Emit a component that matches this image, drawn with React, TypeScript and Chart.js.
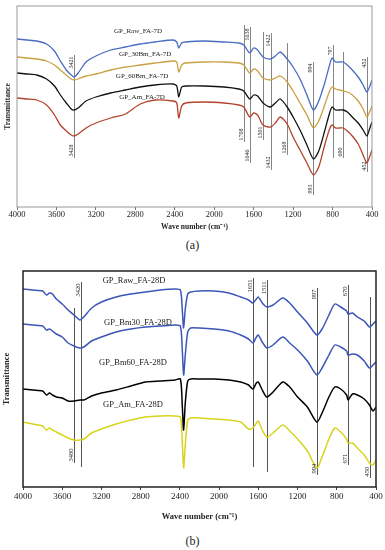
import React, { useEffect, useRef } from 'react';
import { Chart, registerables } from 'chart.js';
Chart.register(...registerables);

const SERIF = "'Liberation Serif', 'Times New Roman', Times, serif";

const X_TICKS = [4000, 3600, 3200, 2800, 2400, 2000, 1600, 1200, 800, 400];

// ---------- Panel (a): 7D ----------
const WN_A = [4000, 3900, 3800, 3700, 3620, 3560, 3500, 3450, 3421, 3380, 3300, 3200, 3050, 2900, 2750, 2600, 2420, 2380, 2360, 2330, 2290, 2100, 1900, 1750, 1700, 1640, 1600, 1560, 1505, 1430, 1380, 1330, 1260, 1200, 1130, 1060, 994, 940, 880, 830, 805, 770, 730, 694, 650, 600, 540, 490, 452, 425, 400];
const RAW_7D = [84, 83.5, 83, 81.5, 78, 73, 68.5, 66, 65, 67, 72.5, 75.5, 78.5, 80, 81.5, 82.5, 83.5, 82.5, 79.5, 82, 82.5, 83, 82.5, 82, 81, 77, 79.5, 78.5, 75, 74, 75.5, 77.5, 74, 70, 64, 56, 48.5, 53, 62, 71, 74.5, 72.5, 72.5, 72.5, 71, 68.5, 65, 61, 57.5, 60, 63.5];
const BM30_7D = [75, 74.5, 74, 73, 71, 68.5, 66, 64, 63.5, 64, 65.5, 66.5, 68.5, 70, 71, 72, 73, 72.5, 67.5, 71, 72, 72.5, 72.5, 72, 71, 67, 69, 68, 64.5, 63.5, 64.5, 65.5, 62.5, 58, 52, 46, 39.5, 43, 51, 58, 60, 59, 58.5, 58, 57.5, 56, 53, 49, 45, 47.5, 50.5];
const BM60_7D = [67, 66.5, 66, 64, 60.5, 56, 52, 49, 48.5, 49.5, 53, 55, 57, 58.5, 60, 61, 61.5, 60.5, 55, 60, 60.5, 60.5, 60, 59, 58, 54, 56, 55.5, 52, 50, 52, 54, 50, 45, 38.5, 31, 24, 28, 38, 47, 50, 48.5, 48.5, 48.5, 47.5, 45, 42, 38.5, 35.5, 39, 42.5];
const AM_7D = [54.5, 54, 53.5, 51, 46, 41, 38, 36, 35.5, 36.5, 39.5, 42, 44.5, 46.5, 51.5, 53.5, 53, 52, 44.5, 50.5, 52, 52.5, 52, 51, 50, 45, 47, 46, 41, 40, 42, 45, 41.5, 35, 28.5, 22, 16, 20, 31, 39, 41, 39.5, 39.5, 39.5, 38, 35.5, 31.5, 26, 22, 25, 28.5];
const NAMES_A = ['GP_Raw_FA-7D', 'GP_30Bm_FA-7D', 'GP_60Bm_FA-7D', 'GP_Am_FA-7D'];
const NAME_WN_A = [2773, 2700, 2732, 2732];
const NAME_T_A = [88, 76.5, 65.5, 55];
const MARK_WN_A = [3421, 1698, 1637, 1505, 1424, 1262, 994, 796, 694, 451];
const MARK_TOP_A = [76, 91, 90, 87.5, 87, 82, 72.5, 81, 77.5, 75];
const MARK_BOT_A = [24.5, 32.5, 22, 33.5, 18.5, 26, 6, 24.5, 24.5, 17.5];
const MARK_TOPLBL_A = ['3421', '', '1638', '', '1422', '', '994', '797', '', '452'];
const MARK_BOTLBL_A = ['3428', '1708', '1646', '1501', '1432', '1268', '993', '', '690', '452'];

// ---------- Panel (b): 28D ----------
const WN_B = [4000, 3900, 3800, 3760, 3730, 3700, 3660, 3600, 3540, 3480, 3420, 3380, 3300, 3200, 3050, 2900, 2750, 2600, 2450, 2395, 2375, 2362, 2345, 2320, 2290, 2200, 2050, 1900, 1780, 1700, 1655, 1620, 1600, 1560, 1513, 1450, 1350, 1280, 1200, 1100, 1003, 950, 880, 820, 760, 700, 685, 640, 590, 520, 467, 430, 400];
const RAW_28D = [99, 98.5, 98, 96, 97, 96.5, 94, 91.5, 88.5, 86, 83.5, 85, 89.5, 92.5, 95, 96.5, 97.5, 98.5, 99, 98.5, 88, 79.5, 89, 96.5, 97.5, 98, 98, 97, 95, 93.5, 92, 94, 95, 92, 90, 91, 94.5, 92, 87.5, 82, 76, 79, 86, 91.5, 90, 88, 86.5, 87, 85, 83, 80, 81.5, 83];
const BM30_28D = [81.5, 81, 80.5, 78.5, 79, 78, 76.5, 75, 72, 70.5, 69.5, 70, 73, 75, 77.5, 79, 80, 80.5, 81, 80.5, 68, 56, 66, 77.5, 79.5, 79.5, 79, 78, 76, 74, 72, 75, 76, 72.5, 69.5, 71, 75, 72, 68.5, 63, 56, 59.5, 66, 71, 70, 68, 66, 66.5, 66, 63, 59.5, 61, 62.5];
const BM60_28D = [49, 48.5, 48, 46, 47, 46, 45, 44.5, 43, 43, 43.5, 43.5, 45.5, 47, 48.5, 50.5, 52.5, 53, 53.5, 54, 40, 28.5, 42, 53, 54, 54, 54, 53.5, 52.5, 51, 49, 52, 52.5, 48.5, 45, 47.5, 52.5, 50, 45, 40, 32.5, 37, 45, 50, 49, 46, 43.5, 46.5, 46, 44, 41, 38, 40];
const AM_28D = [32.5, 31.5, 30.5, 28.5, 29.5, 28.5, 27.5, 26, 24.5, 23.5, 23.5, 24, 27, 29, 31.5, 33.5, 35, 35.5, 35.5, 35, 22, 9.5, 21, 33.5, 34.5, 34.5, 34, 33.5, 32.5, 29, 29.5, 32, 33, 28.5, 25, 27, 31, 28, 24, 18, 9.5, 15, 24, 29.5, 27.5, 24, 22, 22, 19.5, 16, 12, 11, 13.5];
const NAMES_B = ['GP_Raw_FA-28D', 'GP_Bm30_FA-28D', 'GP_Bm60_FA-28D', 'GP_Am_FA-28D'];
const NAME_WN_B = [2868, 2827, 2878, 2878];
const NAME_T_B = [103, 82, 62, 41];
const MARK_WN_B = [3480, 3405, 1655, 1511, 1003, 685, 458];
const MARK_TOP_B = [89.5, 102.5, 104.5, 103.5, 99.5, 101, 95];
const MARK_BOT_B = [12, 10, 10, 7.5, 6, 11, 4.5];
const MARK_TOPLBL_B = ['', '3420', '1651', '1511', '997', '670', ''];
const MARK_BOTLBL_B = ['3480', '', '', '', '994', '671', '450'];

type Cfg = {
  wn: number[];
  values: number[][];
  colors: string[];
  lineWidth: number;
  names: string[];
  nameWn: number[];
  nameT: number[];
  nameSize: number;
  markWn: number[];
  markTop: number[];
  markBot: number[];
  markTopLbl: string[];
  markBotLbl: string[];
  markSize: number;
  markColor: string;
  markWidth: number;
  yMax: number;
  pad: { left: number; right: number; top: number; bottom: number };
  axisH: number;
  canvasH: number;
  tickSize: number;
  tickPad: number;
  titleSize: number;
  titlePadBottom: number;
  frameColor: string;
  frameWidth: number;
  tickColor: string;
  yTitleX: number;
  yTitleSize: number;
};

const makeOverlay = (cfg: Cfg) => ({
  id: 'overlay',
  beforeDatasetsDraw(chart: any) {
    const { ctx, scales } = chart;
    const x = scales.x;
    const y = scales.y;
    ctx.save();
    ctx.strokeStyle = cfg.markColor;
    ctx.lineWidth = cfg.markWidth;
    cfg.markWn.forEach((w, i) => {
      const px = Math.round(x.getPixelForValue(w)) + 0.5;
      ctx.beginPath();
      ctx.moveTo(px, y.getPixelForValue(cfg.markTop[i]));
      ctx.lineTo(px, y.getPixelForValue(cfg.markBot[i]));
      ctx.stroke();
    });
    ctx.restore();
  },
  afterDatasetsDraw(chart: any) {
    const { ctx, chartArea: a, scales } = chart;
    const x = scales.x;
    const y = scales.y;
    ctx.save();
    // peak labels
    ctx.fillStyle = '#222';
    ctx.font = `${cfg.markSize}px ${SERIF}`;
    ctx.textBaseline = 'alphabetic';
    cfg.markWn.forEach((w, i) => {
      const px = Math.round(x.getPixelForValue(w)) - 1;
      if (cfg.markTopLbl[i]) {
        ctx.save();
        ctx.translate(px, y.getPixelForValue(cfg.markTop[i]) + 1.5);
        ctx.rotate(-Math.PI / 2);
        ctx.textAlign = 'right';
        ctx.fillText(cfg.markTopLbl[i], 0, 0);
        ctx.restore();
      }
      if (cfg.markBotLbl[i]) {
        ctx.save();
        ctx.translate(px, y.getPixelForValue(cfg.markBot[i]) - 1.5);
        ctx.rotate(-Math.PI / 2);
        ctx.textAlign = 'left';
        ctx.fillText(cfg.markBotLbl[i], 0, 0);
        ctx.restore();
      }
    });
    // series names
    ctx.font = `${cfg.nameSize}px ${SERIF}`;
    ctx.textAlign = 'center';
    ctx.textBaseline = 'middle';
    cfg.names.forEach((n, i) => {
      ctx.fillText(n, x.getPixelForValue(cfg.nameWn[i]), y.getPixelForValue(cfg.nameT[i]));
    });
    // y title
    ctx.save();
    ctx.font = `bold ${cfg.yTitleSize}px ${SERIF}`;
    ctx.translate(cfg.yTitleX, (a.top + a.bottom) / 2);
    ctx.rotate(-Math.PI / 2);
    ctx.textAlign = 'center';
    ctx.textBaseline = 'middle';
    ctx.fillText('Transmittance', 0, 0);
    ctx.restore();
    // frame
    ctx.strokeStyle = cfg.frameColor;
    ctx.lineWidth = cfg.frameWidth;
    ctx.strokeRect(a.left, a.top, a.right - a.left, a.bottom - a.top);
    ctx.restore();
  },
});

function Panel({ cfg, top }: { cfg: Cfg; top: number }) {
  const ref = useRef<HTMLCanvasElement | null>(null);
  useEffect(() => {
    if (!ref.current) return;
    const chart = new Chart(ref.current, {
      type: 'line',
      data: {
        datasets: cfg.values.map((vals, s) => ({
          label: cfg.names[s],
          data: cfg.wn.map((w, i) => ({ x: w, y: vals[i] })),
          borderColor: cfg.colors[s],
          borderWidth: cfg.lineWidth,
          pointRadius: 0,
          tension: 0.25,
          fill: false,
        })),
      },
      options: {
        animation: false,
        responsive: false,
        events: [],
        layout: { padding: cfg.pad },
        plugins: { legend: { display: false }, tooltip: { enabled: false } },
        scales: {
          x: {
            type: 'linear',
            min: 400,
            max: 4000,
            reverse: true,
            afterBuildTicks: (axis: any) => {
              axis.ticks = X_TICKS.map((v) => ({ value: v }));
            },
            afterFit: (axis: any) => {
              axis.height = cfg.axisH;
            },
            ticks: {
              font: { family: SERIF, size: cfg.tickSize },
              color: '#222',
              padding: cfg.tickPad,
              maxRotation: 0,
              autoSkip: false,
              callback: (v: any) => String(v),
            },
            grid: { drawOnChartArea: false, drawTicks: true, tickLength: 3, color: cfg.tickColor },
            border: { display: false },
            title: {
              display: true,
              text: 'Wave number (cm⁻¹)',
              font: { family: SERIF, size: cfg.titleSize, weight: 'bold' },
              color: '#222',
              padding: { top: 0, bottom: cfg.titlePadBottom },
            },
          },
          y: { display: false, min: 0, max: cfg.yMax },
        },
      } as any,
      plugins: [makeOverlay(cfg)],
    });
    return () => chart.destroy();
  }, [cfg]);
  return (
    <canvas
      ref={ref}
      width={385}
      height={cfg.canvasH}
      style={{ position: 'absolute', left: 0, top, width: 385, height: cfg.canvasH, display: 'block' }}
    />
  );
}

const CFG_A: Cfg = {
  wn: WN_A,
  values: [RAW_7D, BM30_7D, BM60_7D, AM_7D],
  colors: ['#4a6cc2', '#c9a142', '#111111', '#b3432b'],
  lineWidth: 1.3,
  names: NAMES_A,
  nameWn: NAME_WN_A,
  nameT: NAME_T_A,
  nameSize: 7,
  markWn: MARK_WN_A,
  markTop: MARK_TOP_A,
  markBot: MARK_BOT_A,
  markTopLbl: MARK_TOPLBL_A,
  markBotLbl: MARK_BOTLBL_A,
  markSize: 6,
  markColor: '#666666',
  markWidth: 0.8,
  yMax: 100.5,
  pad: { left: 17, right: 13, top: 6, bottom: 0 },
  axisH: 28,
  canvasH: 235,
  tickSize: 8.5,
  tickPad: 0,
  titleSize: 7.5,
  titlePadBottom: 3.5,
  frameColor: '#999999',
  frameWidth: 1,
  tickColor: '#777777',
  yTitleX: 8,
  yTitleSize: 7.5,
};

const CFG_B: Cfg = {
  wn: WN_B,
  values: [RAW_28D, BM30_28D, BM60_28D, AM_28D],
  colors: ['#3b56b6', '#3b56b6', '#000000', '#d8d41e'],
  lineWidth: 1.5,
  names: NAMES_B,
  nameWn: NAME_WN_B,
  nameT: NAME_T_B,
  nameSize: 8.5,
  markWn: MARK_WN_B,
  markTop: MARK_TOP_B,
  markBot: MARK_BOT_B,
  markTopLbl: MARK_TOPLBL_B,
  markBotLbl: MARK_BOTLBL_B,
  markSize: 6.5,
  markColor: '#555555',
  markWidth: 1,
  yMax: 108,
  pad: { left: 23, right: 9, top: 9, bottom: 0 },
  axisH: 40,
  canvasH: 265,
  tickSize: 9,
  tickPad: 1.5,
  titleSize: 8.5,
  titlePadBottom: 5.6,
  frameColor: '#222222',
  frameWidth: 1.5,
  tickColor: '#444444',
  yTitleX: 7,
  yTitleSize: 8.5,
};

export default function App() {
  const cap: React.CSSProperties = {
    position: 'absolute',
    left: 0,
    width: 385,
    textAlign: 'center',
    fontFamily: SERIF,
    fontSize: 12,
    lineHeight: '14px',
    color: '#222',
  };
  return (
    <div style={{ position: 'absolute', left: 0, top: 0, width: 385, height: 550, background: '#fff', overflow: 'hidden' }}>
      <Panel cfg={CFG_A} top={0} />
      <div style={{ ...cap, top: 238 }}>(a)</div>
      <Panel cfg={CFG_B} top={262} />
      <div style={{ ...cap, top: 534 }}>(b)</div>
    </div>
  );
}
